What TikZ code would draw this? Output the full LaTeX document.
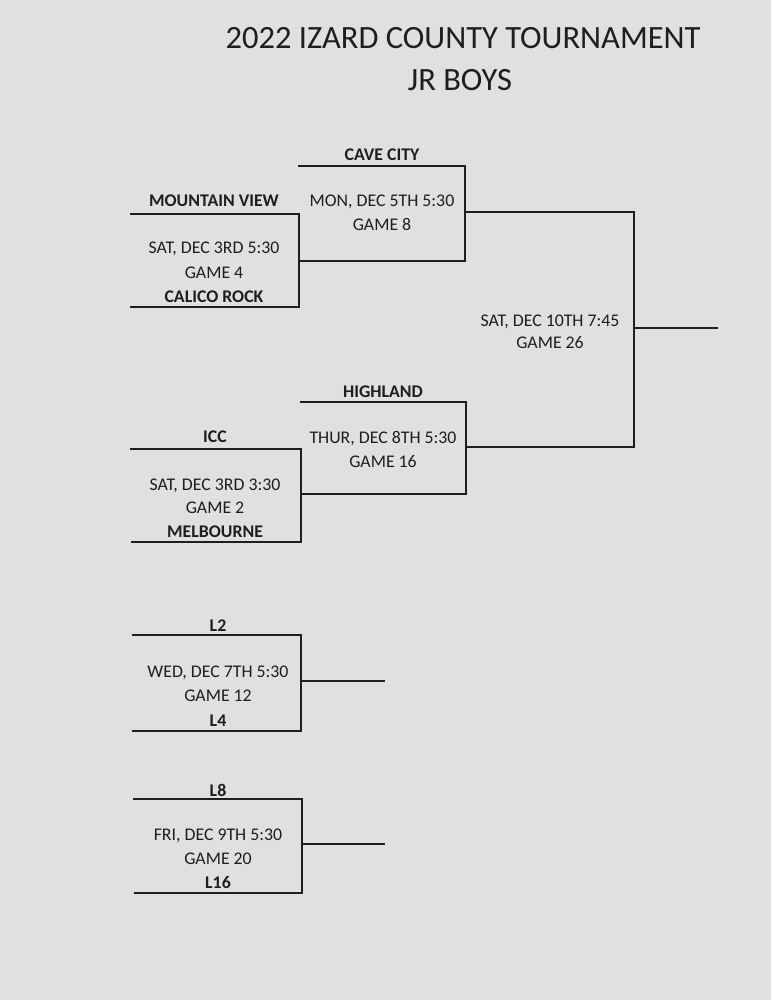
\documentclass[tikz,border=0pt]{standalone}
\usepackage{fontspec}
\setmainfont{Carlito}
\definecolor{paper}{RGB}{224,224,227}
\definecolor{ink}{RGB}{30,30,32}
\begin{document}
\begin{tikzpicture}[x=1pt,y=-1pt,
  line/.style={draw=ink,line width=1.8pt},
  lbl/.style={text=ink,font=\fontsize{17.8}{20}\selectfont,inner sep=0pt,anchor=base},
  team/.style={lbl,font=\fontsize{17.8}{20}\selectfont\bfseries},
  ttl/.style={text=ink,font=\fontsize{32.5}{36}\selectfont,inner sep=0pt,anchor=base}]
\fill[paper] (0,0) rectangle (771,1000);
\useasboundingbox (0,0) rectangle (771,1000);
% titles
\node[ttl] (t1) at (463,49) {2022 IZARD COUNTY TOURNAMENT};
\node[ttl] (t2) at (460,91) {JR BOYS};
% coordinates of bracket corners
% game 4
\coordinate (g4tl) at (130,214); \coordinate (g4tr) at (299,214);
\coordinate (g4bl) at (130,307); \coordinate (g4br) at (299,307);
% game 8
\coordinate (g8tl) at (298,166); \coordinate (g8tr) at (465,166);
\coordinate (g8bl) at (299,261); \coordinate (g8br) at (465,261);
% game 2
\coordinate (g2tl) at (130,449); \coordinate (g2tr) at (301,449);
\coordinate (g2bl) at (131,542); \coordinate (g2br) at (301,542);
% game 16
\coordinate (g16tl) at (300,402); \coordinate (g16tr) at (466,402);
\coordinate (g16bl) at (301,494); \coordinate (g16br) at (466,494);
% game 26
\coordinate (g26tl) at (465,212); \coordinate (g26tr) at (634,212);
\coordinate (g26bl) at (466,447); \coordinate (g26br) at (634,447);
\coordinate (g26o) at (634,328); \coordinate (g26e) at (718,328);
% game 12
\coordinate (g12tl) at (132,635); \coordinate (g12tr) at (301,635);
\coordinate (g12bl) at (132,731); \coordinate (g12br) at (301,731);
\coordinate (g12o) at (301,681); \coordinate (g12e) at (385,681);
% game 20
\coordinate (g20tl) at (133,799); \coordinate (g20tr) at (302,799);
\coordinate (g20bl) at (134,893); \coordinate (g20br) at (302,893);
\coordinate (g20o) at (302,844); \coordinate (g20e) at (385,844);
% lines
\draw[line] (g4tl) -- (g4tr) -- (g4br) -- (g4bl);
\draw[line] (g8tl) -- (g8tr) -- (g8br) -- (g8bl);
\draw[line] (g2tl) -- (g2tr) -- (g2br) -- (g2bl);
\draw[line] (g16tl) -- (g16tr) -- (g16br) -- (g16bl);
\draw[line] (g26tl) -- (g26tr) -- (g26br) -- (g26bl);
\draw[line] (g26o) -- (g26e);
\draw[line] (g12tl) -- (g12tr) -- (g12br) -- (g12bl);
\draw[line] (g12o) -- (g12e);
\draw[line] (g20tl) -- (g20tr) -- (g20br) -- (g20bl);
\draw[line] (g20o) -- (g20e);
% game 8 texts
\node[team] (cc) at (382,161) {CAVE CITY};
\node[lbl] (g8d) at (382,207) {MON, DEC 5TH 5:30};
\node[lbl] (g8n) at (382,231) {GAME 8};
% game 4 texts
\node[team] (mv) at (214,207) {MOUNTAIN VIEW};
\node[lbl] (g4d) at (214,254) {SAT, DEC 3RD 5:30};
\node[lbl] (g4n) at (214,278) {GAME 4};
\node[team] (cr) at (214,302) {CALICO ROCK};
% game 26 texts
\node[lbl] (g26d) at (550,326) {SAT, DEC 10TH 7:45};
\node[lbl] (g26n) at (550,348) {GAME 26};
% game 16 texts
\node[team] (hl) at (383,397) {HIGHLAND};
\node[lbl] (g16d) at (383,443) {THUR, DEC 8TH 5:30};
\node[lbl] (g16n) at (383,467) {GAME 16};
% game 2 texts
\node[team] (icc) at (215,442) {ICC};
\node[lbl] (g2d) at (215,490) {SAT, DEC 3RD 3:30};
\node[lbl] (g2n) at (215,513) {GAME 2};
\node[team] (mb) at (215,537) {MELBOURNE};
% game 12 texts
\node[team] (l2) at (218,631) {L2};
\node[lbl] (g12d) at (218,677) {WED, DEC 7TH 5:30};
\node[lbl] (g12n) at (218,701) {GAME 12};
\node[team] (l4) at (218,726) {L4};
% game 20 texts
\node[team] (l8) at (218,796) {L8};
\node[lbl] (g20d) at (218,840) {FRI, DEC 9TH 5:30};
\node[lbl] (g20n) at (218,864) {GAME 20};
\node[team] (l16) at (218,888) {L16};
\end{tikzpicture}
\end{document}
